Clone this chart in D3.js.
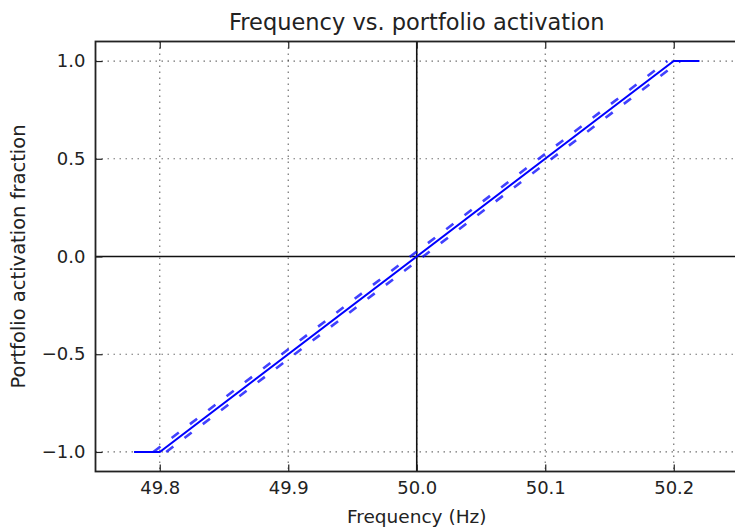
<!DOCTYPE html>
<html>
<head>
<meta charset="utf-8">
<script src="https://cdn.jsdelivr.net/npm/d3@7"></script>
<style>
  html, body { margin: 0; padding: 0; background: #fff; }
  svg { display: block; font-family: "DejaVu Sans", sans-serif; }
</style>
</head>
<body>
<svg id="chart" width="735" height="530"></svg>
<script>
// Droop response: activation fraction against grid frequency
const freqHz = [49.78, 49.8, 50.2, 50.22];
const activation = [-1, -1, 1, 1];
// Tolerance band around the droop line (Hz)
const bandOffset = 0.005;
const bandFreqLow = [49.8 - bandOffset, 50.2 - bandOffset];
const bandFreqHigh = [49.8 + bandOffset, 50.2 + bandOffset];
const bandActivation = [-1, 1];

const xTicks = [49.8, 49.9, 50.0, 50.1, 50.2];
const yTicks = [-1.0, -0.5, 0.0, 0.5, 1.0];
const xDomain = [49.75, 50.25];
const yDomain = [-1.1, 1.1];

const svg = d3.select("#chart");
const plotLeft = 95.5, plotRight = 738, plotTop = 41.5, plotBottom = 471.5;

const x = d3.scaleLinear().domain(xDomain).range([plotLeft, plotRight]);
const y = d3.scaleLinear().domain(yDomain).range([plotBottom, plotTop]);

const fmt = v => d3.format(".1f")(v).replace("-", "\u2212");

// Grid
const grid = svg.append("g");
grid.selectAll(".gx").data(xTicks).join("line")
  .attr("x1", d => x(d)).attr("x2", d => x(d))
  .attr("y1", plotTop).attr("y2", plotBottom)
  .attr("stroke", "#000").attr("stroke-width", 1.2)
  .attr("stroke-dasharray", "1.5,4.5").attr("opacity", 0.55);
grid.selectAll(".gy").data(yTicks).join("line")
  .attr("y1", d => y(d)).attr("y2", d => y(d))
  .attr("x1", plotLeft).attr("x2", plotRight)
  .attr("stroke", "#000").attr("stroke-width", 1.2)
  .attr("stroke-dasharray", "1.5,4.5").attr("opacity", 0.55);

// Zero reference lines
svg.append("line")
  .attr("x1", plotLeft).attr("x2", plotRight)
  .attr("y1", y(0)).attr("y2", y(0))
  .attr("stroke", "#111").attr("stroke-width", 1.6);
svg.append("line")
  .attr("x1", x(50)).attr("x2", x(50))
  .attr("y1", plotTop).attr("y2", plotBottom)
  .attr("stroke", "#111").attr("stroke-width", 1.6);

const line = d3.line().x(d => x(d[0])).y(d => y(d[1]));

// Band lines (dashed)
[bandFreqLow, bandFreqHigh].forEach(fs => {
  svg.append("path")
    .datum(fs.map((f, i) => [f, bandActivation[i]]))
    .attr("d", line)
    .attr("fill", "none")
    .attr("stroke", "#0000ff").attr("stroke-width", 2.6)
    .attr("stroke-dasharray", "9,14")
    .attr("opacity", 0.75);
});

// Droop curve
svg.append("path")
  .datum(freqHz.map((f, i) => [f, activation[i]]))
  .attr("d", line)
  .attr("fill", "none")
  .attr("stroke", "#0000ff").attr("stroke-width", 2);

// Frame
svg.append("rect")
  .attr("x", plotLeft).attr("y", plotTop)
  .attr("width", plotRight - plotLeft).attr("height", plotBottom - plotTop)
  .attr("fill", "none").attr("stroke", "#222").attr("stroke-width", 1.8);

// Axes
const xAxis = d3.axisBottom(x).tickValues(xTicks).tickFormat(fmt)
  .tickSizeInner(-7).tickSizeOuter(0).tickPadding(10);
const gx = svg.append("g").attr("transform", `translate(0,${plotBottom})`).call(xAxis);
const xAxisTop = d3.axisTop(x).tickValues(xTicks).tickFormat("")
  .tickSizeInner(-7).tickSizeOuter(0);
const gxt = svg.append("g").attr("transform", `translate(0,${plotTop})`).call(xAxisTop);

const yAxis = d3.axisLeft(y).tickValues(yTicks).tickFormat(fmt)
  .tickSizeInner(-7).tickSizeOuter(0).tickPadding(10);
const gy = svg.append("g").attr("transform", `translate(${plotLeft},0)`).call(yAxis);

[gx, gxt, gy].forEach(g => {
  g.select(".domain").remove();
  g.selectAll(".tick line").attr("stroke", "#222").attr("stroke-width", 1.2);
  g.selectAll(".tick text")
    .attr("fill", "#222")
    .style("font-family", "'DejaVu Sans', sans-serif")
    .style("font-size", "18px");
});

// Title and axis labels
svg.append("text")
  .attr("x", (plotLeft + plotRight) / 2).attr("y", 30)
  .attr("text-anchor", "middle")
  .style("font-size", "22.5px").attr("fill", "#222")
  .text("Frequency vs. portfolio activation");

svg.append("text")
  .attr("x", (plotLeft + plotRight) / 2).attr("y", 523)
  .attr("text-anchor", "middle")
  .style("font-size", "18.5px").attr("fill", "#222")
  .text("Frequency (Hz)");

svg.append("text")
  .attr("transform", `translate(25,${(plotTop + plotBottom) / 2}) rotate(-90)`)
  .attr("text-anchor", "middle")
  .style("font-size", "19.5px").attr("fill", "#222")
  .text("Portfolio activation fraction");
</script>
</body>
</html>
